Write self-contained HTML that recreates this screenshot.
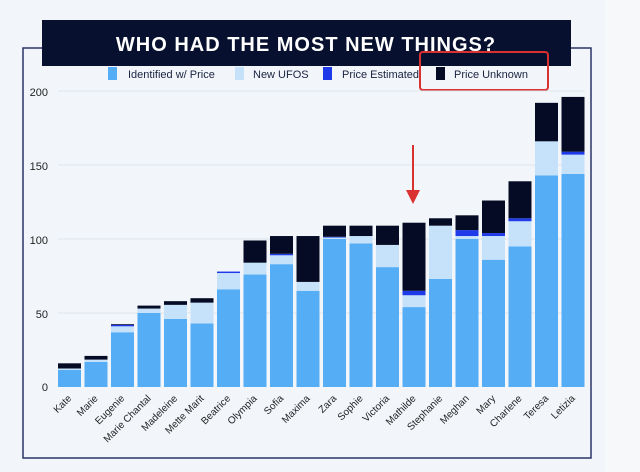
<!DOCTYPE html>
<html><head><meta charset="utf-8"><style>
html,body{margin:0;padding:0;background:#f1f4f9;}
svg{display:block;font-family:"Liberation Sans",sans-serif;}
</style></head><body>
<svg width="640" height="472" viewBox="0 0 640 472" xmlns="http://www.w3.org/2000/svg">
<rect width="640" height="472" fill="#f2f5fa"/>
<rect x="605" y="0" width="35" height="472" fill="#f7f8fa"/>
<rect x="23" y="48" width="568" height="410" fill="none" stroke="#2a3566" stroke-width="1.5"/>
<rect x="42" y="20" width="529" height="46" fill="#07102e"/>
<text x="306" y="51" text-anchor="middle" font-size="20" font-weight="bold" fill="#fff" letter-spacing="1">WHO HAD THE MOST NEW THINGS?</text>
<g font-size="11" fill="#1a2240">
<rect x="108" y="67" width="9" height="13" fill="#55adf5"/><text x="128" y="78">Identified w/ Price</text>
<rect x="235" y="67" width="9" height="13" fill="#c6e2fb"/><text x="253" y="78">New UFOS</text>
<rect x="323" y="67" width="9" height="13" fill="#1f3ae8"/><text x="342" y="78">Price Estimated</text>
<rect x="436" y="67" width="9" height="13" fill="#050b24"/><text x="454" y="78">Price Unknown</text>
</g>
<rect x="420" y="52" width="128" height="38" rx="3" fill="none" stroke="#d93030" stroke-width="2"/>
<g stroke="#dde3ec" stroke-width="1">
<line x1="58" y1="91" x2="585" y2="91"/><line x1="58" y1="165" x2="585" y2="165"/>
<line x1="58" y1="239" x2="585" y2="239"/><line x1="58" y1="313" x2="585" y2="313"/>
</g>
<g font-size="11" fill="#222" text-anchor="end">
<text x="48" y="96">200</text><text x="48" y="170">150</text><text x="48" y="244">100</text><text x="48" y="318">50</text><text x="48" y="391">0</text>
</g>
<g>
<rect x="58" y="369.98" width="23" height="17.02" fill="#55adf5"/><rect x="58" y="368.5" width="23" height="1.48" fill="#c6e2fb"/><rect x="58" y="363.32" width="23" height="5.18" fill="#050b24"/>
<rect x="84.5" y="361.84" width="23" height="25.16" fill="#55adf5"/><rect x="84.5" y="359.62" width="23" height="2.22" fill="#c6e2fb"/><rect x="84.5" y="355.92" width="23" height="3.7" fill="#050b24"/>
<rect x="111" y="332.24" width="23" height="54.76" fill="#55adf5"/><rect x="111" y="326.32" width="23" height="5.92" fill="#c6e2fb"/><rect x="111" y="324.84" width="23" height="1.48" fill="#1f3ae8"/><rect x="111" y="324.1" width="23" height="0.74" fill="#050b24"/>
<rect x="137.5" y="313" width="23" height="74" fill="#55adf5"/><rect x="137.5" y="308.56" width="23" height="4.44" fill="#c6e2fb"/><rect x="137.5" y="305.6" width="23" height="2.96" fill="#050b24"/>
<rect x="164" y="318.92" width="23" height="68.08" fill="#55adf5"/><rect x="164" y="304.86" width="23" height="14.06" fill="#c6e2fb"/><rect x="164" y="301.16" width="23" height="3.7" fill="#050b24"/>
<rect x="190.5" y="323.36" width="23" height="63.64" fill="#55adf5"/><rect x="190.5" y="302.64" width="23" height="20.72" fill="#c6e2fb"/><rect x="190.5" y="298.2" width="23" height="4.44" fill="#050b24"/>
<rect x="217" y="289.32" width="23" height="97.68" fill="#55adf5"/><rect x="217" y="273.04" width="23" height="16.28" fill="#c6e2fb"/><rect x="217" y="271.56" width="23" height="1.48" fill="#1f3ae8"/>
<rect x="243.5" y="274.52" width="23" height="112.48" fill="#55adf5"/><rect x="243.5" y="262.68" width="23" height="11.84" fill="#c6e2fb"/><rect x="243.5" y="240.48" width="23" height="22.2" fill="#050b24"/>
<rect x="270" y="264.16" width="23" height="122.84" fill="#55adf5"/><rect x="270" y="255.28" width="23" height="8.88" fill="#c6e2fb"/><rect x="270" y="253.8" width="23" height="1.48" fill="#1f3ae8"/><rect x="270" y="236.04" width="23" height="17.76" fill="#050b24"/>
<rect x="296.5" y="290.8" width="23" height="96.2" fill="#55adf5"/><rect x="296.5" y="281.92" width="23" height="8.88" fill="#c6e2fb"/><rect x="296.5" y="236.04" width="23" height="45.88" fill="#050b24"/>
<rect x="323" y="239" width="23" height="148" fill="#55adf5"/><rect x="323" y="237.52" width="23" height="1.48" fill="#c6e2fb"/><rect x="323" y="236.78" width="23" height="0.74" fill="#1f3ae8"/><rect x="323" y="225.68" width="23" height="11.1" fill="#050b24"/>
<rect x="349.5" y="243.44" width="23" height="143.56" fill="#55adf5"/><rect x="349.5" y="236.04" width="23" height="7.4" fill="#c6e2fb"/><rect x="349.5" y="225.68" width="23" height="10.36" fill="#050b24"/>
<rect x="376" y="267.12" width="23" height="119.88" fill="#55adf5"/><rect x="376" y="244.92" width="23" height="22.2" fill="#c6e2fb"/><rect x="376" y="225.68" width="23" height="19.24" fill="#050b24"/>
<rect x="402.5" y="307.08" width="23" height="79.92" fill="#55adf5"/><rect x="402.5" y="295.24" width="23" height="11.84" fill="#c6e2fb"/><rect x="402.5" y="290.8" width="23" height="4.44" fill="#1f3ae8"/><rect x="402.5" y="222.72" width="23" height="68.08" fill="#050b24"/>
<rect x="429" y="278.96" width="23" height="108.04" fill="#55adf5"/><rect x="429" y="225.68" width="23" height="53.28" fill="#c6e2fb"/><rect x="429" y="218.28" width="23" height="7.4" fill="#050b24"/>
<rect x="455.5" y="239" width="23" height="148" fill="#55adf5"/><rect x="455.5" y="236.04" width="23" height="2.96" fill="#c6e2fb"/><rect x="455.5" y="230.12" width="23" height="5.92" fill="#1f3ae8"/><rect x="455.5" y="215.32" width="23" height="14.8" fill="#050b24"/>
<rect x="482" y="259.72" width="23" height="127.28" fill="#55adf5"/><rect x="482" y="236.04" width="23" height="23.68" fill="#c6e2fb"/><rect x="482" y="233.08" width="23" height="2.96" fill="#1f3ae8"/><rect x="482" y="200.52" width="23" height="32.56" fill="#050b24"/>
<rect x="508.5" y="246.4" width="23" height="140.6" fill="#55adf5"/><rect x="508.5" y="221.24" width="23" height="25.16" fill="#c6e2fb"/><rect x="508.5" y="218.28" width="23" height="2.96" fill="#1f3ae8"/><rect x="508.5" y="181.28" width="23" height="37" fill="#050b24"/>
<rect x="535" y="175.36" width="23" height="211.64" fill="#55adf5"/><rect x="535" y="141.32" width="23" height="34.04" fill="#c6e2fb"/><rect x="535" y="102.84" width="23" height="38.48" fill="#050b24"/>
<rect x="561.5" y="173.88" width="23" height="213.12" fill="#55adf5"/><rect x="561.5" y="154.64" width="23" height="19.24" fill="#c6e2fb"/><rect x="561.5" y="151.68" width="23" height="2.96" fill="#1f3ae8"/><rect x="561.5" y="96.92" width="23" height="54.76" fill="#050b24"/>
</g>
<g font-size="10" fill="#222" text-anchor="end">
<text x="72" y="399" transform="rotate(-45 72 399)">Kate</text>
<text x="98.5" y="399" transform="rotate(-45 98.5 399)">Marie</text>
<text x="125" y="399" transform="rotate(-45 125 399)">Eugenie</text>
<text x="151.5" y="399" transform="rotate(-45 151.5 399)">Marie Chantal</text>
<text x="178" y="399" transform="rotate(-45 178 399)">Madeleine</text>
<text x="204.5" y="399" transform="rotate(-45 204.5 399)">Mette Marit</text>
<text x="231" y="399" transform="rotate(-45 231 399)">Beatrice</text>
<text x="257.5" y="399" transform="rotate(-45 257.5 399)">Olympia</text>
<text x="284" y="399" transform="rotate(-45 284 399)">Sofia</text>
<text x="310.5" y="399" transform="rotate(-45 310.5 399)">Maxima</text>
<text x="337" y="399" transform="rotate(-45 337 399)">Zara</text>
<text x="363.5" y="399" transform="rotate(-45 363.5 399)">Sophie</text>
<text x="390" y="399" transform="rotate(-45 390 399)">Victoria</text>
<text x="416.5" y="399" transform="rotate(-45 416.5 399)">Mathilde</text>
<text x="443" y="399" transform="rotate(-45 443 399)">Stephanie</text>
<text x="469.5" y="399" transform="rotate(-45 469.5 399)">Meghan</text>
<text x="496" y="399" transform="rotate(-45 496 399)">Mary</text>
<text x="522.5" y="399" transform="rotate(-45 522.5 399)">Charlene</text>
<text x="549" y="399" transform="rotate(-45 549 399)">Teresa</text>
<text x="575.5" y="399" transform="rotate(-45 575.5 399)">Letizia</text>
</g>
<line x1="413" y1="145" x2="413" y2="195" stroke="#d93030" stroke-width="2"/>
<polygon points="406,190 420,190 413,204" fill="#d93030"/>
</svg>
</body></html>
